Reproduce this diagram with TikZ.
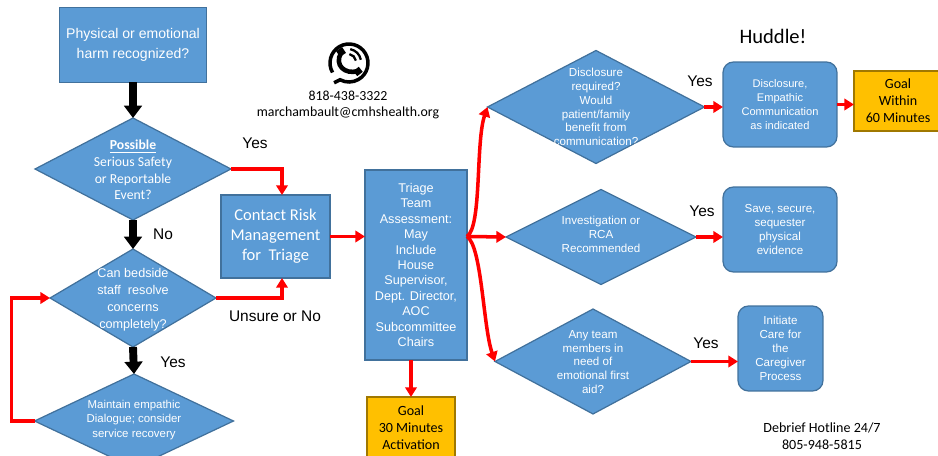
\documentclass[tikz,border=0pt]{standalone}
\usepackage{fontspec}
\setmainfont{Liberation Sans}
\newfontfamily\calibri{Carlito}
\usetikzlibrary{shapes.geometric,arrows.meta}
\definecolor{boxblue}{HTML}{5B9BD5}
\definecolor{boxline}{HTML}{41719C}
\definecolor{goalgold}{HTML}{FFC000}
\definecolor{goalline}{HTML}{A07800}
\newcommand{\fs}[2]{\fontsize{#1}{#2}\selectfont}

\begin{document}
\begin{tikzpicture}[x=0.02cm, y=-0.02cm,
	blk/.style={draw=boxline, fill=boxblue, line width=0.7pt, text=white, align=center, inner sep=0pt, outer sep=0pt},
	rbox/.style={blk, rounded corners=6pt},
	dia/.style={blk, diamond},
	dtext/.style={text=white, align=center, inner sep=0pt},
	goal/.style={draw=goalline, fill=goalgold, line width=0.7pt, align=center, inner sep=0pt, outer sep=0pt, font=\calibri\fs{8}{9.6}},
	redline/.style={red, line width=2pt, >={Triangle[length=5.5pt,width=6.5pt]}},
	blkline/.style={black, line width=4.5pt, >={Triangle[length=7pt,width=10pt]}},
	lab/.style={font=\fs{8.8}{10}}]
\useasboundingbox (0,0) rectangle (938,456);
\clip (0,0) rectangle (938,456);

% left column
\node[blk, minimum width=2.94cm, minimum height=1.5cm, font=\fs{8}{11.3}] (harm) at (133,45) {Physical or emotional\\harm recognized?};
\node[dia, minimum width=3.92cm, minimum height=2.04cm] (d1) at (133,169) {};
\node[dtext, font=\calibri\fs{7.8}{9.4}] (d1t) at (133,170) {\underline{\textbf{Possible}}\\Serious Safety\\or Reportable\\Event?};
\node[dia, minimum width=3.32cm, minimum height=1.96cm] (d2) at (133,298) {};
\node[dtext, font=\fs{7.2}{9.6}] (d2t) at (133,300) {Can bedside\\staff~~resolve\\concerns\\completely?};
\node[dia, minimum width=3.98cm, minimum height=1.88cm] (d3) at (134,421) {};
\node[dtext, font=\fs{6.5}{8}] (d3t) at (134,420) {Maintain empathic\\Dialogue; consider\\service recovery};

% middle
\node[blk, minimum width=2.18cm, minimum height=1.66cm, font=\calibri\fs{9.4}{11.3}] (contact) at (275.5,236.5) {Contact Risk\\Management\\for~~Triage};
\node[blk, minimum width=2.04cm, minimum height=3.8cm, font=\fs{7.2}{8.8}] (tri) at (416,265) {Triage\\Team\\Assessment:\\May\\Include\\House\\Supervisor,\\Dept. Director,\\AOC\\Subcommittee\\Chairs};
\node[goal, minimum width=1.76cm, minimum height=1.24cm] (goal1) at (411,428) {Goal\\30 Minutes\\Activation};
\coordinate (fork) at (tri.east |- contact.east);

% right column
\node[dia, minimum width=4.34cm, minimum height=2.26cm] (d4) at (596,107) {};
\node[dtext, font=\fs{6.6}{7.9}] (d4t) at (596,107) {Disclosure\\required?\\Would\\patient/family\\benefit from\\communication?};
\node[rbox, minimum width=2.28cm, minimum height=1.7cm, font=\fs{6.3}{7.9}] (r1) at (780,104.5) {Disclosure,\\Empathic\\Communication\\as indicated};
\node[goal, minimum width=1.76cm, minimum height=1.2cm] (goal2) at (898,101) {Goal\\Within\\60 Minutes};
\node[dia, minimum width=3.8cm, minimum height=1.9cm] (d5) at (601,237) {};
\node[dtext, font=\fs{6.6}{7.9}] (d5t) at (601,234) {Investigation or\\RCA\\Recommended};
\node[rbox, minimum width=2.28cm, minimum height=1.7cm, font=\fs{6.6}{7.9}] (r2) at (780,229.5) {Save, secure,\\sequester\\physical\\evidence};
\node[dia, minimum width=3.92cm, minimum height=2.1cm] (d6) at (593,361.5) {};
\node[dtext, font=\fs{6.6}{7.9}] (d6t) at (593,362) {Any team\\members in\\need of\\emotional first\\aid?};
\node[rbox, minimum width=1.7cm, minimum height=1.7cm, font=\fs{6.6}{7.9}] (r3) at (780.5,348.5) {Initiate\\Care for\\the\\Caregiver\\Process};

% labels
\node[lab] (yes1) at (255,143) {Yes};
\node[lab] (no1) at (163,234) {No};
\node[lab] (unsure) at (275,316) {Unsure or No};
\node[lab] (yes2) at (173,362) {Yes};
\node[lab] (yes3) at (700,81) {Yes};
\node[lab] (yes4) at (702,211) {Yes};
\node[lab] (yes5) at (706,343) {Yes};
\node[font=\calibri\fs{11.7}{14}] (huddle) at (773,36) {Huddle!};
\node[align=center, font=\calibri\fs{7.9}{9}] (contactinfo) at (348,105) {818-438-3322\\marchambault@cmhshealth.org};
\node[align=center, font=\calibri\fs{8}{9.6}] (hotline) at (822,436.5) {Debrief Hotline 24/7\\805-948-5815};

% phone icon
\begin{scope}[shift={(349,63)}]
	\draw[line width=2pt] (150:19) arc (150:478:19) -- ++(-6,3);
	\draw[line width=2.6pt] (-8,-10) .. controls (-15,2) and (-4,12) .. (9,8);
	\draw[line width=4pt] (-11,-9) -- (-5,-13);
	\draw[line width=4pt] (7,6) -- (11,11);
	\draw[line width=1.3pt] (-1,-1) ++(-80:8) arc (-80:-10:8);
	\draw[line width=1.3pt] (-1,-1) ++(-80:13) arc (-80:-10:13);
\end{scope}

% connectors
\draw[blkline,->] (harm.south) -- (d1.north);
\draw[blkline,->] (d1.south) -- (d2.north);
\draw[blkline,->] (d2.south) -- (d3.north);
\draw[redline,->] (d1.east) -| ([xshift=0.13cm]contact.north);
\draw[redline,->] (d2.east) -| ([xshift=0.13cm]contact.south);
\draw[redline,->] (d3.west) -- ++(-23,0) |- (d2.west);
\draw[redline,->] (contact.east) -- (contact.east -| tri.west);
\draw[redline,->] (tri.south -| goal1.north) -- (goal1.north);
\draw[redline,->] (fork) .. controls +(15,-10) and +(-12,35) .. (d4.west);
\draw[redline,->] (fork) -- (d5.west);
\draw[redline,->] (fork) .. controls +(15,10) and +(-12,-35) .. (d6.west);
\draw[redline,->] (d4.east) -- (d4.east -| r1.west);
\draw[redline,->] (r1.east) -- (r1.east -| goal2.west);
\draw[redline,->] (d5.east) -- (d5.east -| r2.west);
\draw[redline,->] (d6.east) -- (d6.east -| r3.west);

\end{tikzpicture}
\end{document}
